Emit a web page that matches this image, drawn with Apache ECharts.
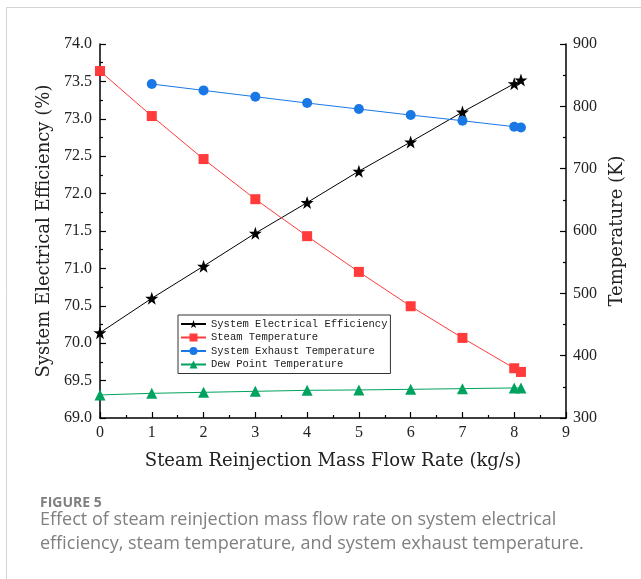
<!DOCTYPE html>
<html>
<head>
<meta charset="utf-8">
<script src="https://cdn.jsdelivr.net/npm/echarts@6/dist/echarts.min.js"></script>
<style>
  html, body { margin: 0; padding: 0; background: #fff; }
  #main { width: 641px; height: 579px; }
</style>
</head>
<body>
<div id="main"></div>
<script>
// values
var flowRate = [0, 1, 2, 3, 4, 5, 6, 7, 8, 8.13];
var efficiency = [70.14, 70.60, 71.03, 71.47, 71.88, 72.30, 72.69, 73.09, 73.47, 73.52];
var steamTemp = [856.6, 784.4, 715.4, 651.0, 591.7, 534.4, 479.3, 428.5, 379.8, 373.9];
var exhaustTemp = [null, 835.8, 825.6, 815.4, 805.3, 795.6, 786.0, 776.9, 767.3, 766.0];
var dewPointTemp = [337.0, 339.6, 341.2, 342.8, 344.4, 345.0, 346.0, 347.1, 348.2, 348.2];

var seriesNames = ['System Electrical Efficiency', 'Steam Temperature', 'System Exhaust Temperature', 'Dew Point Temperature'];
var seriesColors = ['#000000', '#ff3b3b', '#1a78e6', '#00a35e'];

var starPath = 'path://M50,0 L61.8,35.1 L98.1,35.1 L68.8,56.7 L79.4,91 L50,70 L20.6,91 L31.2,56.7 L1.9,35.1 L38.2,35.1 Z';

function pairs(xs, ys) {
    var out = [];
    for (var i = 0; i < xs.length; i++) {
        if (ys[i] != null) out.push([xs[i], ys[i]]);
    }
    return out;
}

var axisFont = 'Liberation Serif';
var nameFont = {fontFamily: 'DejaVu Serif', fontSize: 18, color: '#222'};
var tickStyle = {color: '#222', fontFamily: axisFont, fontSize: 16};

function makeSeries(idx, values, yIndex, symbol, size) {
    return {
        type: 'line',
        name: seriesNames[idx],
        yAxisIndex: yIndex,
        data: pairs(flowRate, values),
        symbol: symbol,
        symbolSize: size,
        showAllSymbol: true,
        color: seriesColors[idx],
        lineStyle: {width: 1, color: seriesColors[idx]},
        itemStyle: {color: seriesColors[idx]},
        z: 3 + idx,
        animation: false
    };
}

var chart = echarts.init(document.getElementById('main'));

var option = {
    backgroundColor: '#fff',
    animation: false,
    grid: {left: 100, right: 75, top: 44, bottom: 161},
    legend: {
        orient: 'vertical',
        left: 178,
        top: 315,
        data: seriesNames,
        itemWidth: 25,
        itemHeight: 10,
        itemGap: 1.5,
        padding: [3, 3, 3, 2],
        borderColor: '#333',
        borderWidth: 1,
        textStyle: {fontFamily: 'Liberation Mono', fontSize: 10.5, color: '#222', lineHeight: 12}
    },
    xAxis: {
        type: 'value',
        min: 0, max: 9, interval: 1,
        name: 'Steam Reinjection Mass Flow Rate (kg/s)',
        nameLocation: 'middle',
        nameGap: 34,
        nameTextStyle: nameFont,
        axisLine: {lineStyle: {color: '#000', width: 1.5}},
        axisTick: {inside: true, length: 6, lineStyle: {color: '#000', width: 1.2}},
        minorTick: {show: true, splitNumber: 2, length: 3, lineStyle: {color: '#000', width: 1.2}},
        splitLine: {show: false},
        axisLabel: Object.assign({margin: 7}, tickStyle)
    },
    yAxis: [
        {
            type: 'value',
            min: 69, max: 74, interval: 0.5,
            position: 'left',
            name: 'System Electrical Efficiency (%)',
            nameLocation: 'middle',
            nameRotate: 90,
            nameGap: 45,
            nameTextStyle: nameFont,
            axisLine: {show: true, lineStyle: {color: '#000', width: 1.5}},
            axisTick: {inside: true, length: 6, lineStyle: {color: '#000', width: 1.2}},
            minorTick: {show: true, splitNumber: 2, length: 3, lineStyle: {color: '#000', width: 1.2}},
            splitLine: {show: false},
            axisLabel: Object.assign({margin: 8, formatter: function (v) { return v.toFixed(1); }}, tickStyle)
        },
        {
            type: 'value',
            min: 300, max: 900, interval: 100,
            position: 'right',
            name: 'Temperature (K)',
            nameLocation: 'middle',
            nameRotate: 90,
            nameGap: 42,
            nameTextStyle: nameFont,
            axisLine: {show: true, lineStyle: {color: '#000', width: 1.5}},
            axisTick: {inside: true, length: 6, lineStyle: {color: '#000', width: 1.2}},
            minorTick: {show: true, splitNumber: 2, length: 3, lineStyle: {color: '#000', width: 1.2}},
            splitLine: {show: false},
            axisLabel: Object.assign({margin: 7}, tickStyle)
        }
    ],
    graphic: [
        {type: 'line', shape: {x1: 6.5, y1: 7.5, x2: 641, y2: 7.5}, style: {stroke: '#d4d4d4', lineWidth: 1}},
        {type: 'line', shape: {x1: 6.5, y1: 7.5, x2: 6.5, y2: 579}, style: {stroke: '#d4d4d4', lineWidth: 1}},
        {type: 'text', left: 40, top: 496, style: {text: 'FIGURE 5', font: 'bold 14px "Open Sans"', fill: '#7f7f7f'}},
        {type: 'text', left: 40, top: 511, style: {text: 'Effect of steam reinjection mass flow rate on system electrical', font: '18px "Open Sans"', fill: '#808080'}},
        {type: 'text', left: 40, top: 535, style: {text: 'efficiency, steam temperature, and system exhaust temperature.', font: '18px "Open Sans"', fill: '#808080'}}
    ],
    series: [
        makeSeries(0, efficiency, 0, starPath, 13),
        makeSeries(1, steamTemp, 1, 'rect', 10),
        makeSeries(2, exhaustTemp, 1, 'circle', 10),
        makeSeries(3, dewPointTemp, 1, 'triangle', 11)
    ]
};

chart.setOption(option);
</script>
</body>
</html>
